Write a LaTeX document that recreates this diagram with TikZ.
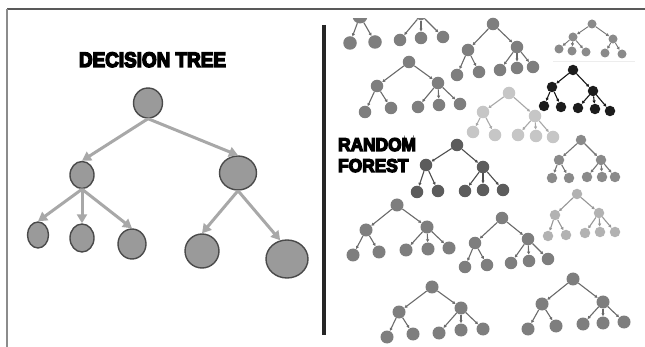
\documentclass[tikz,border=0pt]{standalone}
\usepackage{fontspec}
\usepackage{graphicx}
\usetikzlibrary{shapes.geometric,arrows.meta}
\newfontfamily\heavy[FakeBold=7]{Liberation Sans Bold}
\definecolor{dfill}{HTML}{9A9A9A}
\definecolor{dline}{HTML}{4A4A4A}
\definecolor{darrow}{HTML}{A8A8A8}
\definecolor{fmid}{HTML}{7E7E7E}
\definecolor{fmidb}{HTML}{8A8A8A}
\definecolor{flight}{HTML}{C6C6C6}
\definecolor{flightb}{HTML}{B2B2B2}
\definecolor{fdark}{HTML}{1C1C1C}
\definecolor{fdim}{HTML}{5C5C5C}
\tikzset{
  dnode/.style={ellipse, fill=dfill, draw=dline, line width=1.4pt, inner sep=0pt},
  dedge/.style={draw=darrow, line width=3pt, -{Triangle[length=9pt,width=10pt]}},
  fnode/.style={circle, inner sep=0pt, draw=none},
  fedge/.style={line width=1.1pt, -{Latex[length=3pt,width=3.5pt]}},
  title/.style={inner sep=0pt, text=black},
}
\newcommand\ftree[8]{%
  \begin{scope}[every node/.style={fnode, fill=#2, minimum size=#3}, fe/.style={fedge, draw=#2!85!black}]
    \node (#1r) at (#4) {};
    \node (#1a) at (#5) {};
    \node (#1b) at (#6) {};
    \draw[fe] (#1r) -- (#1a);
    \draw[fe] (#1r) -- (#1b);
    \foreach \x/\y [count=\i] in {#7} { \node (#1a\i) at (\x,\y) {}; \draw[fe] (#1a) -- (#1a\i); }
    \foreach \x/\y [count=\i] in {#8} { \node (#1b\i) at (\x,\y) {}; \draw[fe] (#1b) -- (#1b\i); }
  \end{scope}}
\begin{document}
\begin{tikzpicture}[x=1pt,y=-1pt]
\useasboundingbox (0,0) rectangle (645,347);
\fill[white] (0,0) rectangle (645,347);
% frame
\draw[draw=black!65, line width=1.2pt] (7,9) -- (645,9);
\draw[draw=black!45, line width=2pt] (7,9) -- (7,347);
% divider
\draw[draw=black!85, line width=4pt] (323.5,25) -- (323.5,335);
% ---------- decision tree ----------
\node[title, anchor=base, font=\heavy\fontsize{21}{21}\selectfont] (dtt) at (152.5,67) {\scalebox{0.9}[1]{DECISION TREE}};
\node[dnode, minimum width=29pt, minimum height=30pt] (root) at (148,103) {};
\node[dnode, minimum width=24pt, minimum height=27pt] (lc) at (82,175) {};
\node[dnode, minimum width=37pt, minimum height=34pt] (rc) at (238,173) {};
\node[dnode, minimum width=21pt, minimum height=26pt] (l1) at (38,235) {};
\node[dnode, minimum width=24pt, minimum height=28pt] (l2) at (82,238) {};
\node[dnode, minimum width=28pt, minimum height=30pt] (l3) at (132,244) {};
\node[dnode, minimum width=34pt, minimum height=34pt] (l4) at (202,251) {};
\node[dnode, minimum width=42pt, minimum height=38pt] (l5) at (287,259) {};
\draw[dedge] (root.south) -- (lc.north);
\draw[dedge] (root.south) -- (rc.north);
\draw[dedge] (lc.south) -- (l1.north);
\draw[dedge] (lc.south) -- (l2.north);
\draw[dedge] (lc.south) -- (l3.north);
\draw[dedge] (rc.south) -- (l4.north);
\draw[dedge] (rc.south) -- (l5.110);
% ---------- random forest ----------
\node[title, anchor=base west, font=\heavy\fontsize{18.5}{18.5}\selectfont] (rf1) at (338,151) {\scalebox{0.935}[1]{RANDOM}};
\node[title, anchor=base west, font=\heavy\fontsize{18.5}{18.5}\selectfont] (rf2) at (338,172) {\scalebox{0.935}[1]{FOREST}};
% clipped trees at the top
\begin{scope}
  \clip (330,18.5) rectangle (460,60);
  \begin{scope}[every node/.style={fnode, fill=fmid, minimum size=13.5pt}, fe/.style={fedge, draw=fmid!85!black}]
    \node[minimum size=15pt] (Ar) at (360,16) {};
    \node (A1) at (350,43) {};
    \node (A2) at (375,42) {};
    \draw[fe] (Ar) -- (A1);
    \draw[fe] (Ar) -- (A2);
    \node[minimum size=11pt] (Br) at (421,15) {};
    \node[minimum size=12.5pt] (B1) at (400,40) {};
    \node[minimum size=12.5pt] (B2) at (421,38) {};
    \node[minimum size=12.5pt] (B3) at (443,37) {};
    \draw[fe] (Br) -- (B1);
    \draw[fe] (Br) -- (B2);
    \draw[fe] (Br) -- (B3);
  \end{scope}
\end{scope}
\ftree{C}{fmid}{12.5pt}{493,24}{468,50}{517,47}{457/75, 479/72}{500/70, 517/68, 533/67}
\begin{scope}[every node/.style={fnode, fill=fmidb, minimum size=9pt}, fe/.style={fedge, line width=0.9pt, draw=fmidb!85!black}]
  \node (Dr) at (592,24) {};
  \node (Da) at (573,37) {};
  \node (Db) at (613,39) {};
  \draw[fe] (Dr) -- (Da);
  \draw[fe] (Dr) -- (Db);
  \foreach \x/\y [count=\i] in {559/49, 572/51, 586/52} { \node (Da\i) at (\x,\y) {}; \draw[fe] (Da) -- (Da\i); }
  \foreach \x/\y [count=\i] in {605/53, 622/54} { \node (Db\i) at (\x,\y) {}; \draw[fe] (Db) -- (Db\i); }
\end{scope}
\draw[draw=black!7, line width=0.8pt] (553,61) -- (635,61);
\ftree{E}{fmid}{12.5pt}{409,62}{377,86}{438,83}{365/112, 391/108}{418/107, 439/105, 460/104}
\ftree{F}{flight}{12.5pt}{509,93}{483,112}{535,116}{473/132, 495/135}{518/135, 536/136, 553/137}
\ftree{G}{fdark}{10.5pt}{573,70}{552,87}{593,91}{544/106, 561/107}{578/108, 595/109, 610/111}
\ftree{H}{fdim}{12.5pt}{457,145}{426,165}{483,167}{417/192, 438/191}{465/191, 483/190, 503/190}
\ftree{I}{fmidb}{10.5pt}{581,140}{559,160}{601,160}{552/178, 569/178}{587/177, 602/177, 615/177}
\ftree{J}{flightb}{10.5pt}{577,194}{555,215}{599,213}{548/236, 566/235}{585/233, 600/232, 615/232}
\ftree{K}{fmid}{13pt}{397,205}{366,230}{427,227}{353/255, 379/252}{406/250, 428/249, 449/248}
\ftree{L}{fmid}{12.5pt}{502,218}{475,243}{528,239}{465/267, 487/265}{511/263, 529/261, 548/259}
\ftree{M}{fmid}{13pt}{432,287}{399,312}{461,308}{387/337, 413/334}{439/333, 461/330, 483/329}
\ftree{N}{fmid}{13pt}{573,279}{542,304}{603,302}{528/329, 556/326}{583/324, 603/323, 624/322}
\end{tikzpicture}
\end{document}
